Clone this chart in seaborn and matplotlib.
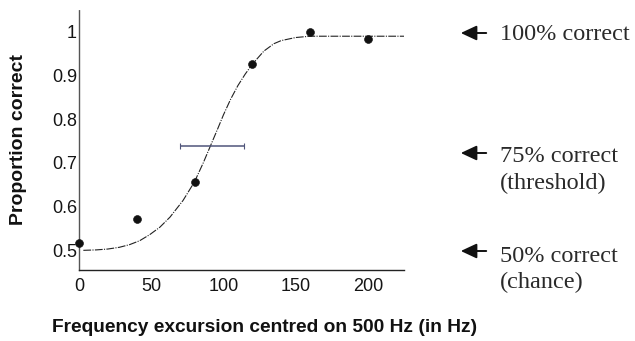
import matplotlib
matplotlib.use("Agg")
import matplotlib.pyplot as plt
import seaborn as sns
import pandas as pd

# Observed data
freq = [0, 40, 80, 120, 160, 200]
prop = [0.516, 0.571, 0.656, 0.926, 1.0, 0.983]

# Fitted psychometric curve
fit_x = [3, 12, 20, 28, 35, 42, 49, 56, 63, 72, 80, 86, 91, 96, 100, 105, 110, 115, 120, 128, 135, 140, 150, 160, 190, 225]
fit_y = [0.500, 0.501, 0.503, 0.507, 0.513, 0.522, 0.536, 0.553, 0.576, 0.614, 0.657, 0.700, 0.739, 0.778, 0.810, 0.846, 0.877, 0.903, 0.926, 0.956, 0.973, 0.980, 0.987, 0.990, 0.990, 0.990]

# Threshold estimate with horizontal interval
thr_x = 91
thr_y = 0.739
thr_lo = 70
thr_hi = 114

x_ticks = [0, 50, 100, 150, 200]
y_ticks = [0.5, 0.6, 0.7, 0.8, 0.9, 1.0]
y_ticklabels = ["0.5", "0.6", "0.7", "0.8", "0.9", "1"]

notes = [["100% correct"], ["75% correct", "(threshold)"], ["50% correct", "(chance)"]]

sns.set_style("white")
plt.rcParams["font.family"] = ["Liberation Sans", "DejaVu Sans"]

fig = plt.figure(figsize=(6.35, 3.41), dpi=100)
ax = fig.add_axes([79 / 635, 1 - 270 / 341, (404 - 79) / 635, (270 - 10) / 341])

fit_df = pd.DataFrame({"x": fit_x, "y": fit_y})
sns.lineplot(data=fit_df, x="x", y="y", ax=ax, color="#222222", linewidth=0.8,
             dashes=False, sort=False)
ax.lines[-1].set_dashes((7, 1.2, 1, 1.2))

ax.errorbar([thr_x], [thr_y], xerr=[[thr_x - thr_lo], [thr_hi - thr_x]],
            fmt="none", ecolor="#50557a", elinewidth=1.1, capsize=2, capthick=0.8)

obs_df = pd.DataFrame({"x": freq, "y": prop})
sns.scatterplot(data=obs_df, x="x", y="y", ax=ax, color="#111111", s=32,
                edgecolor="#111111", zorder=5, clip_on=False)

ax.set_xlim(0, 225)
ax.set_ylim(0.455, 1.05)
ax.set_xticks(x_ticks)
ax.set_yticks(y_ticks)
ax.set_yticklabels(y_ticklabels)
ax.tick_params(axis="both", length=0, labelsize=13, colors="#151515")
ax.tick_params(axis="x", pad=6)
ax.tick_params(axis="y", pad=1.5)

for s in ["top", "right"]:
    ax.spines[s].set_visible(False)
ax.spines["left"].set_linestyle((0, (1, 1)))
ax.spines["left"].set_color("#555555")
ax.spines["left"].set_linewidth(1.0)
ax.spines["bottom"].set_color("#222222")
ax.spines["bottom"].set_linewidth(1.0)

ax.set_xlabel("")
ax.set_ylabel("")
fig.text(19 / 635, 1 - 139 / 341, "Proportion correct", rotation=90,
         ha="center", va="center", fontsize=14, fontweight="bold", color="#111111")
fig.text(52 / 635, 1 - 327 / 341, "Frequency excursion centred on 500 Hz (in Hz)",
         ha="left", va="center", fontsize=13.8, fontweight="bold", color="#111111")

# Right-hand annotations
note_pix_y = [[35], [157, 183], [257, 282]]
arrow_pix_y = [33, 153, 251]
for lines, tys, ay in zip(notes, note_pix_y, arrow_pix_y):
    for txt, ty in zip(lines, tys):
        fig.text(500 / 635, 1 - ty / 341, txt, ha="left", va="center",
                 fontsize=17.5, family=["Liberation Serif"], color="#2a2a2a")
    fig.patches.append(matplotlib.patches.FancyArrowPatch(
        (489 / 635, 1 - ay / 341), (458 / 635, 1 - ay / 341),
        transform=fig.transFigure, arrowstyle="-|>,head_length=6,head_width=2.8",
        color="#111111", linewidth=1.4, mutation_scale=1.6))

fig.savefig("out.png", dpi=100)
